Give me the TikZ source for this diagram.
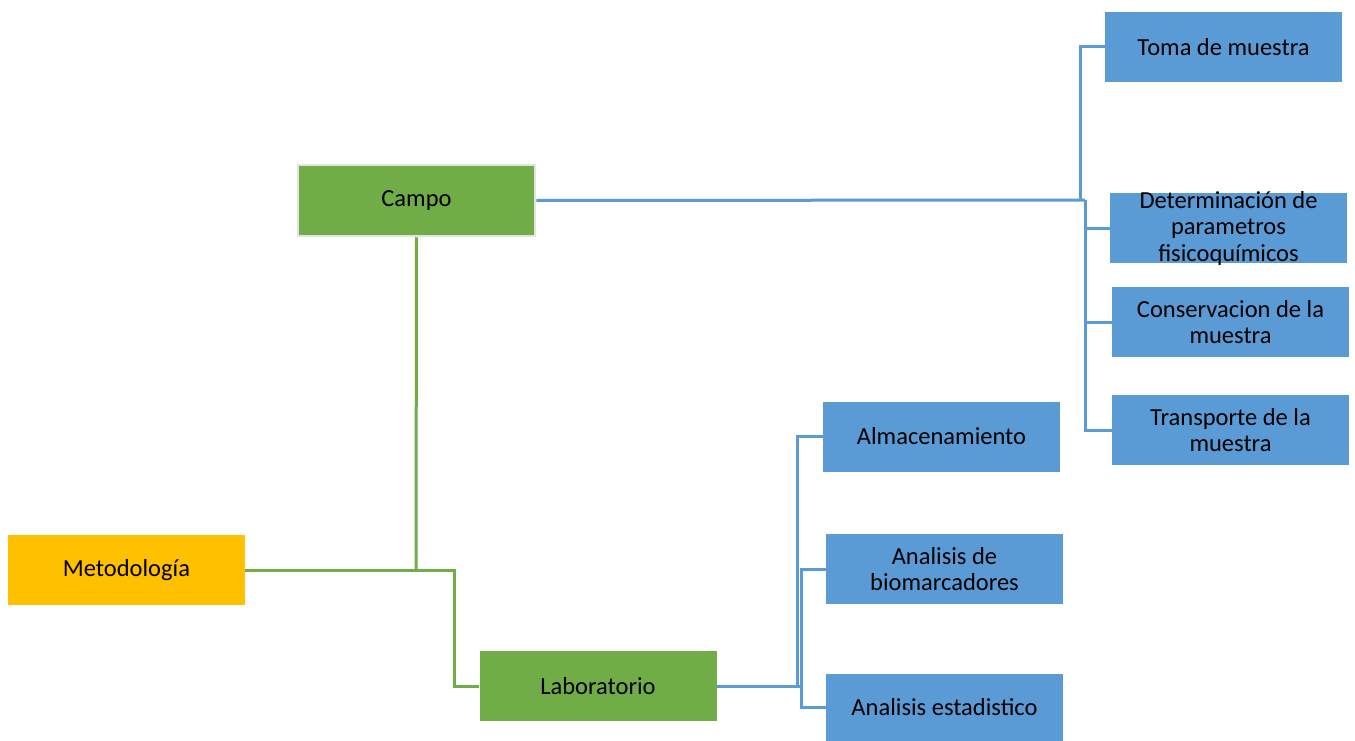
\documentclass[tikz,border=0pt]{standalone}
\usepackage{fontspec}
\setmainfont{Carlito}
\definecolor{boxblue}{HTML}{5B9BD5}
\definecolor{boxgreen}{HTML}{70AD47}
\definecolor{boxyellow}{HTML}{FFC000}
\definecolor{campoborder}{HTML}{E3E3E3}
\begin{document}
\begin{tikzpicture}[x=1pt,y=-1pt,
  box/.style={rectangle,minimum width=237pt,minimum height=70pt,inner sep=2pt,align=center,
    font=\fontsize{24.5}{26.5}\selectfont,text=black},
  bluebox/.style={box,fill=boxblue},
  greenbox/.style={box,fill=boxgreen},
  yellowbox/.style={box,fill=boxyellow},
  gline/.style={draw=boxgreen,line width=3pt},
  bline/.style={draw=boxblue,line width=3pt}]
\useasboundingbox (0,0) rectangle (1355,741);
\node[yellowbox] (met) at (126.5,570) {Metodología};
\node[greenbox,draw=campoborder,line width=2.5pt,minimum width=237pt,minimum height=71pt] (campo) at (416.5,200.5) {Campo};
\node[greenbox] (lab) at (598,686) {Laboratorio};
\node[bluebox] (toma) at (1223.5,47) {Toma de muestra};
\node[bluebox,inner ysep=-6pt] (det) at (1228.5,228) {Determinación de\\parametros\\fisicoquímicos};
\node[bluebox] (cons) at (1230.5,322) {Conservacion de la\\muestra};
\node[bluebox] (trans) at (1230.5,430) {Transporte de la\\muestra};
\node[bluebox] (alm) at (941.5,436.5) {Almacenamiento};
\node[bluebox] (bio) at (944.5,569) {Analisis de\\biomarcadores};
\node[bluebox,minimum height=68pt] (est) at (944.5,707.5) {Analisis estadistico};
% green connectors
\coordinate (gj) at (416,570);
\coordinate (gk) at (454,570);
\draw[gline] (campo.south) -- (gj);
\draw[gline] (met.east) -- (gk) |- (lab.west);
% blue connectors campo
\coordinate (bj1) at (1080,200);
\coordinate (bj2) at (1085,200);
\draw[bline] (campo.east) -- (bj2);
\draw[bline] (bj1) |- (toma.west);
\draw[bline] (bj2) |- (det.west);
\draw[bline] (bj2) |- (cons.west);
\draw[bline] (bj2) |- (trans.west);
% blue connectors lab
\coordinate (lj1) at (797,686);
\coordinate (lj2) at (801,686);
\draw[bline] (lab.east) -- (lj2);
\draw[bline] (lj1) |- (alm.west);
\draw[bline] (lj2) |- (bio.west);
\draw[bline] (lj2) |- (est.west);
\end{tikzpicture}
\end{document}
